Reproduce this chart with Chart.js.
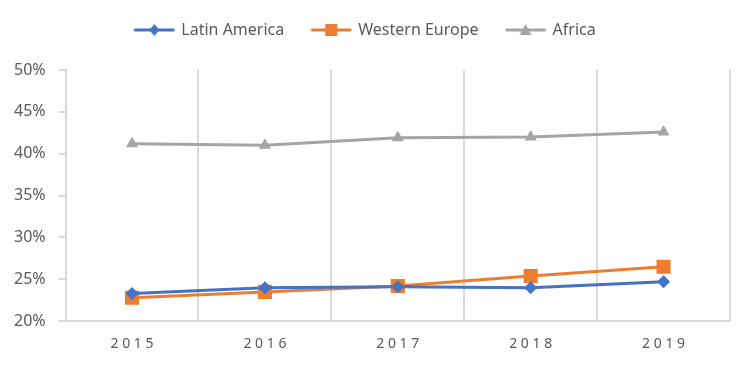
<!DOCTYPE html>
<html>
<head>
<meta charset="utf-8">
<script src="https://cdn.jsdelivr.net/npm/chart.js@4"></script>
<style>
  html, body { margin: 0; padding: 0; background: #fff; }
  #wrap { width: 754px; height: 366px; }
</style>
</head>
<body>
<div id="wrap"><canvas id="chart"></canvas></div>
<script>
// Chart data
const years = ['2015', '2016', '2017', '2018', '2019'];
const latinAmerica = [23.3, 24.0, 24.1, 24.0, 24.7];
const westernEurope = [22.8, 23.5, 24.2, 25.4, 26.5];
const africa = [41.2, 41.0, 41.9, 42.0, 42.6];
const yTicks = [20, 25, 30, 35, 40, 45, 50];

const gridColor = '#d9d9d9';
const textColor = '#595959';

// Legend icon: short line with the marker in the middle
function legendIcon(color, style) {
    const c = document.createElement('canvas');
    c.width = 42; c.height = 16;
    const ctx = c.getContext('2d');
    ctx.strokeStyle = color;
    ctx.fillStyle = color;
    ctx.lineWidth = 3;
    ctx.lineCap = 'round';
    ctx.beginPath();
    ctx.moveTo(2, 8); ctx.lineTo(40, 8);
    ctx.stroke();
    ctx.beginPath();
    if (style === 'rectRot') {
        ctx.moveTo(21, 2); ctx.lineTo(26, 8); ctx.lineTo(21, 14); ctx.lineTo(16, 8);
    } else if (style === 'rect') {
        ctx.rect(15, 2, 12, 12);
    } else {
        ctx.moveTo(21, 2); ctx.lineTo(27, 13); ctx.lineTo(15, 13);
    }
    ctx.closePath();
    ctx.fill();
    return c;
}

function series(label, data, color, style, radius) {
    return {
        label: label,
        data: data,
        borderColor: color,
        backgroundColor: color,
        borderWidth: 3,
        pointStyle: style,
        pointRadius: radius,
        pointHoverRadius: radius,
        pointBorderWidth: 0,
        tension: 0,
        icon: legendIcon(color, style)
    };
}

// extra space under the legend
const legendGap = {
    id: 'legendGap',
    beforeInit(chart) {
        const fit = chart.legend.fit;
        chart.legend.fit = function () {
            fit.bind(chart.legend)();
            this.height += 22;
        };
    }
};

const ctx = document.getElementById('chart').getContext('2d');
new Chart(ctx, {
    type: 'line',
    data: {
        labels: years,
        datasets: [
            series('Latin America', latinAmerica, '#4472C4', 'rectRot', 6.5),
            series('Western Europe', westernEurope, '#ED7D31', 'rect', 10),
            series('Africa', africa, '#A5A5A5', 'triangle', 7)
        ]
    },
    plugins: [legendGap],
    options: {
        responsive: true,
        maintainAspectRatio: false,
        animation: false,
        layout: { padding: { left: 1, right: 24, top: -6, bottom: 0 } },
        plugins: {
            tooltip: { enabled: false },
            legend: {
                position: 'top',
                labels: {
                    usePointStyle: true,
                    pointStyleWidth: 38,
                    color: textColor,
                    font: { family: 'Noto Sans', size: 16 },
                    padding: 28,
                    generateLabels: (chart) => chart.data.datasets.map((ds, i) => ({
                        text: ds.label,
                        pointStyle: ds.icon,
                        fillStyle: ds.borderColor,
                        strokeStyle: ds.borderColor,
                        lineWidth: 0,
                        fontColor: textColor,
                        datasetIndex: i
                    }))
                }
            }
        },
        scales: {
            x: {
                offset: true,
                grid: {
                    offset: true,
                    color: gridColor,
                    lineWidth: 2,
                    drawTicks: false
                },
                border: { color: gridColor, width: 2 },
                ticks: {
                    color: textColor,
                    padding: 14,
                    font: { family: 'Noto Sans', size: 14 },
                    callback: function (v) { return this.getLabelForValue(v).split('').join(' '); }
                }
            },
            y: {
                min: 20,
                max: 50,
                afterBuildTicks: (axis) => { axis.ticks = yTicks.map(v => ({ value: v })); },
                grid: {
                    drawOnChartArea: false,
                    color: gridColor,
                    lineWidth: 2,
                    tickLength: 7
                },
                border: { color: gridColor, width: 2 },
                ticks: {
                    color: textColor,
                    padding: 13,
                    font: { family: 'Noto Sans', size: 16 },
                    callback: (v) => v + '%'
                }
            }
        }
    }
});
</script>
</body>
</html>
